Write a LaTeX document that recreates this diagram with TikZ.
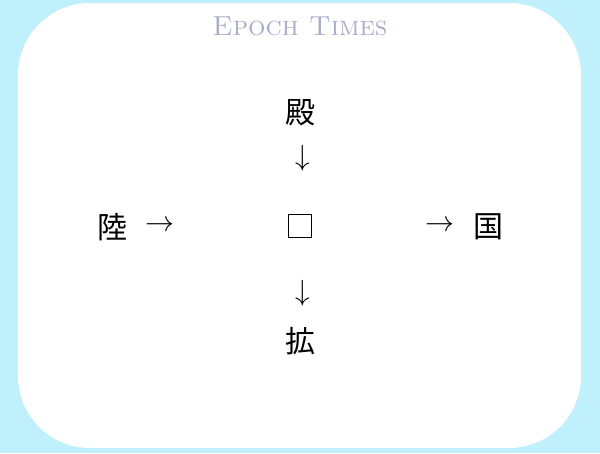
\documentclass[tikz,border=0pt]{standalone}
\usepackage{fontspec}
\newfontfamily\cjk{Noto Sans CJK JP}
\definecolor{bgcyan}{RGB}{191,240,252}
\definecolor{logogrey}{RGB}{168,174,200}
\newcommand{\bigarrow}[1]{\scalebox{1.17}{\fontsize{24.88}{24.88}\selectfont$#1$}}
\tikzset{
    kanji/.style={inner sep=0pt, font=\cjk\fontsize{30}{30}\selectfont},
    arrowglyph/.style={inner sep=0pt},
}
\begin{document}
\begin{tikzpicture}[x=1pt,y=-1pt]
            \useasboundingbox (0,0) rectangle (600,453);
            \fill[bgcyan] (0,0) rectangle (600,453);
            \fill[white, rounded corners=72] (18,3) rectangle (581,448);

            \node[text=logogrey, inner sep=0pt, font=\fontsize{27.5}{27.5}\selectfont\scshape\addfontfeatures{FakeBold=1.5}] (logo) at (300,26) {Epoch Times};

            %i caratteri
            \node[kanji] (top) at (300,113) {殿};
            \node[kanji] (left) at (112,227) {陸};
            \node[kanji] (right) at (488,227) {国};
            \node[kanji] (bottom) at (300,341) {拡};
            \node[draw=black, line width=0.8pt, minimum size=23, inner sep=0pt] (box) at (300,226) {};

            %frecce
            \node[arrowglyph] (arrT) at (302.5,158) {\bigarrow{\downarrow}};
            \node[arrowglyph] (arrB) at (302.5,293) {\bigarrow{\downarrow}};
            \node[arrowglyph] (arrL) at (160,226) {\bigarrow{\rightarrow}};
            \node[arrowglyph] (arrR) at (440,226) {\bigarrow{\rightarrow}};
        \end{tikzpicture}
\end{document}
